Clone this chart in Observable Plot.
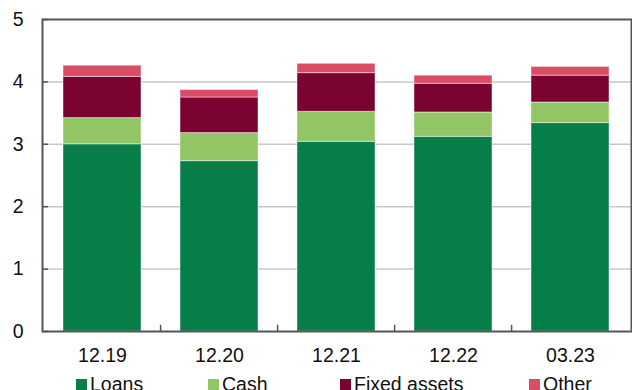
<!DOCTYPE html>
<html><head><meta charset="utf-8">
<script src="https://cdn.jsdelivr.net/npm/d3@7"></script>
<script src="https://cdn.jsdelivr.net/npm/@observablehq/plot@0.6"></script>
<style>
body{margin:0;background:#fff;font-family:"Liberation Sans",Arial,sans-serif;overflow:hidden;}
#wrap{position:relative;width:632px;height:390px;overflow:hidden;}
.sw{position:absolute;top:379px;width:11px;height:12px;}
.lt{position:absolute;top:374px;font-size:19.5px;line-height:20px;color:#111;white-space:nowrap;}
</style></head>
<body><div id="wrap"></div>
<script>
const categories = ["12.19","12.20","12.21","12.22","03.23"];
const series = ["Loans","Cash","Fixed assets","Other"];
const loans = [3.00, 2.73, 3.04, 3.12, 3.34];
const cash = [0.42, 0.45, 0.48, 0.39, 0.33];
const fixedAssets = [0.66, 0.57, 0.62, 0.46, 0.43];
const other = [0.18, 0.12, 0.15, 0.13, 0.14];
const colors = ["#077d48","#92c665","#7b0332","#db4d65"];
const yTicks = [0,1,2,3,4,5];
const legendX = [76, 208, 340, 529];

const values = [loans, cash, fixedAssets, other];
const data = [];
series.forEach((s, si) => categories.forEach((c, ci) => data.push({cat: c, series: s, value: values[si][ci]})));

const pInner = 0.33;
const width = 632, mL = 42, mR = 1;
const step = (width - mL - mR) / categories.length;

const chart = Plot.plot({
  width, height: 368,
  marginLeft: mL, marginRight: mR, marginTop: 19, marginBottom: 37,
  style: {fontFamily: "Liberation Sans, Arial, sans-serif", fontSize: "19.5px", color: "#111", background: "#fff", overflow: "visible"},
  x: {domain: categories, paddingInner: pInner, paddingOuter: pInner/2, label: null},
  y: {domain: [0,5], label: null},
  color: {domain: series, range: colors},
  marks: [
    Plot.ruleY([1,2,3,4], {stroke: "#c8c8c8", strokeWidth: 1.5}),
    Plot.barY(data, {x: "cat", y: "value", fill: "series", order: series, stroke: "#fff", strokeOpacity: 0.45, strokeWidth: 1}),
    Plot.axisY(yTicks, {tickSize: 0, tickPadding: 19, fontSize: 19.5, tickFormat: d => String(d)}),
    Plot.axisY(yTicks, {tickSize: -6, text: null, stroke: "#555", strokeWidth: 1.5}),
    Plot.axisX({tickSize: 0, tickPadding: 17, fontSize: 19.5}),
    Plot.ruleX(categories.slice(1), {x: d => d, dx: -step/2, y1: 0, y2: 0.1, stroke: "#555", strokeWidth: 1.5}),
    Plot.frame({stroke: "#555", strokeWidth: 2})
  ]
});
const wrap = document.getElementById("wrap");
wrap.appendChild(chart);
series.forEach((s, i) => {
  const sw = document.createElement("div");
  sw.className = "sw";
  sw.style.left = legendX[i] + "px";
  sw.style.background = colors[i];
  wrap.appendChild(sw);
  const t = document.createElement("div");
  t.className = "lt";
  t.style.left = (legendX[i] + 14) + "px";
  t.textContent = s;
  wrap.appendChild(t);
});
</script></body></html>
